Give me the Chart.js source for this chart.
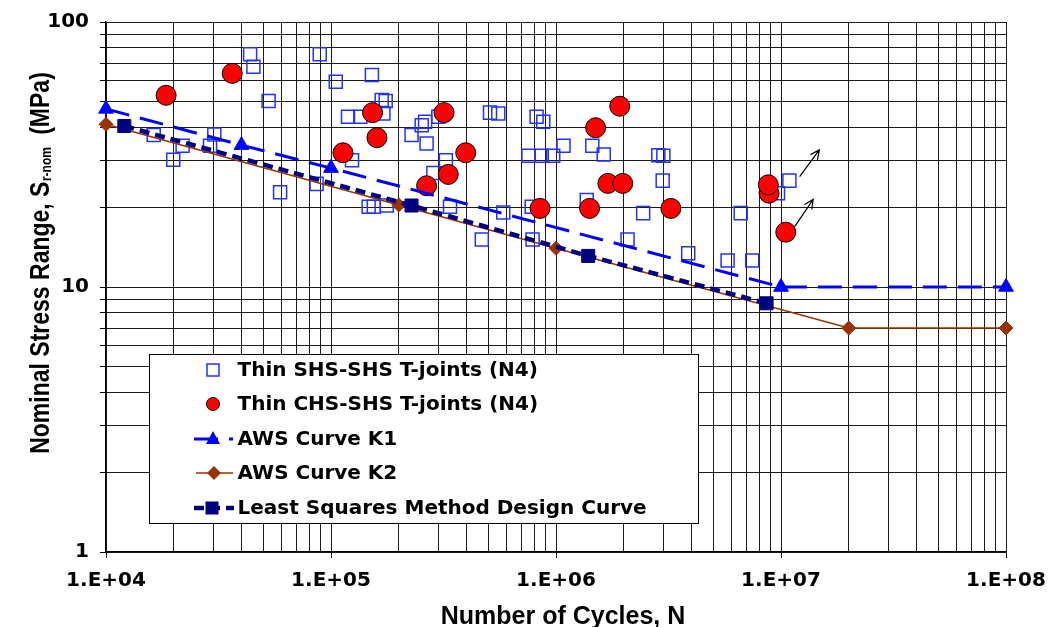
<!DOCTYPE html>
<html>
<head>
<meta charset="utf-8">
<script src="https://cdn.jsdelivr.net/npm/chart.js@4.4.1/dist/chart.umd.min.js"></script>
<style>
html,body{margin:0;padding:0;background:#fff;}
#wrap{width:1048px;height:627px;position:relative;}
</style>
</head>
<body>
<div id="wrap"><canvas id="c" width="1048" height="627"></canvas></div>
<script>
// ---------- data ----------
const shsCycles = [4.37e4,4.52e4,5.28e4,8.91e4,1.05e5,1.63e4,2.19e4,1.99e4,3.03e4,2.90e4,5.94e4,8.63e4,1.19e5,1.35e5,1.52e5,1.68e5,1.75e5,1.71e5,2.62e5,2.53e5,2.28e5,2.66e5,3.00e5,1.24e5,3.24e5,2.85e5,5.09e5,5.54e5,8.20e5,8.78e5,7.54e5,8.64e5,9.72e5,1.08e6,1.47e5,1.55e5,1.77e5,3.38e5,5.83e5,4.68e5,7.87e5,7.80e5,1.37e6,1.45e6,1.63e6,2.85e6,3.00e6,2.98e6,1.09e7,2.44e6,6.62e6,2.08e6,3.87e6,5.79e6,7.45e6,9.70e6];
const shsStress = [75.5,67.8,50.3,75.5,59.5,37.5,34.1,30.2,37.6,34.1,22.8,24.5,43.9,43.9,63.1,50.8,50.3,45.2,42.0,40.8,37.5,34.8,43.9,30.1,30.1,26.9,45.5,45.2,43.9,42.0,31.3,31.3,31.3,34.1,20.1,20.1,20.3,20.1,19.1,15.1,15.1,20.1,21.3,34.1,31.6,31.4,31.3,25.2,25.2,19.0,19.0,15.1,13.4,12.6,12.6,22.6];

const chsCycles = [1.85e4,3.64e4,1.13e5,1.53e5,1.60e5,3.18e5,3.97e5,3.32e5,2.66e5,8.49e5,1.50e6,1.41e6,1.92e6,1.70e6,1.98e6,3.24e6,8.85e6,8.78e6,1.05e7];
const chsStress = [52.9,64.0,32.1,45.5,36.6,45.5,32.1,26.6,24.1,19.8,39.9,19.8,48.1,24.6,24.6,19.8,22.6,24.3,16.1];

const k1Cycles = [1e4,4e4,1e5,1e7,1e8];
const k1Stress = [47,34.3,28.1,10,10];

const k2Cycles = [1e4,2e5,1e6,2e7,1e8];
const k2Stress = [41.1,20.4,14.0,7,7];

const lsmCycles = [1.206e4,2.28e5,1.39e6,8.63e6];
const lsmStress = [40.5,20.3,13.1,8.68];

const xMajorTicks = [1e4,1e5,1e6,1e7,1e8];
const xTickLabels = ['1.E+04','1.E+05','1.E+06','1.E+07','1.E+08'];
const yMajorTicks = [1,10,100];
const yTickLabels = ['1','10','100'];

const arrowStartCycles = [1.21e7,1.15e7];
const arrowStartStress = [26.1,16.9];
const arrowEndCycles = [1.48e7,1.39e7];
const arrowEndStress = [32.9,21.4];

const seriesLabels = ['Thin SHS-SHS T-joints (N4)','Thin CHS-SHS T-joints (N4)','AWS Curve K1','AWS Curve K2','Least Squares Method Design Curve'];
const xTitle = 'Number of Cycles, N';

// ---------- helpers ----------
const pts = (xs, ys) => xs.map((x, i) => ({x: x, y: ys[i]}));
function logTicks(majors) {
  const out = [];
  for (let i = 0; i < majors.length; i++) {
    out.push(majors[i]);
    if (i < majors.length - 1) for (let m = 2; m <= 9; m++) out.push(majors[i] * m);
  }
  return out;
}
const isMajor = (v, majors) => majors.some(m => Math.abs(v - m) / m < 1e-9);
const labelFor = (v, majors, labels) => { const i = majors.findIndex(m => Math.abs(v - m) / m < 1e-9); return i >= 0 ? labels[i] : ''; };

const tickFont = {family: '"DejaVu Sans", sans-serif', size: 20, weight: 'bold'};
const GRID = '#1c1c1c';

const decor = {
  id: 'decor',
  afterDraw(chart) {
    const ctx = chart.ctx, xs = chart.scales.x, ys = chart.scales.y;
    ctx.save();
    // annotation arrows
    ctx.strokeStyle = '#000'; ctx.lineWidth = 1.2;
    for (let i = 0; i < arrowStartCycles.length; i++) {
      const x0 = xs.getPixelForValue(arrowStartCycles[i]), y0 = ys.getPixelForValue(arrowStartStress[i]);
      const x1 = xs.getPixelForValue(arrowEndCycles[i]), y1 = ys.getPixelForValue(arrowEndStress[i]);
      const a = Math.atan2(y1 - y0, x1 - x0), L = 10, s = 0.45;
      ctx.beginPath();
      ctx.moveTo(x0, y0); ctx.lineTo(x1, y1);
      ctx.moveTo(x1 - L * Math.cos(a - s), y1 - L * Math.sin(a - s));
      ctx.lineTo(x1, y1);
      ctx.lineTo(x1 - L * Math.cos(a + s), y1 - L * Math.sin(a + s));
      ctx.stroke();
    }
    // legend
    const bx = 149, by = 354, bw = 549, bh = 169;
    ctx.fillStyle = '#fff'; ctx.fillRect(bx, by, bw, bh);
    ctx.strokeStyle = '#000'; ctx.lineWidth = 1; ctx.setLineDash([]);
    ctx.strokeRect(bx + 0.5, by + 0.5, bw, bh);
    const rows = [370, 404, 439, 473, 508];
    const ds = chart.data.datasets;
    // row 0: open square
    ctx.strokeStyle = ds[0].pointBorderColor; ctx.lineWidth = 1.5;
    ctx.strokeRect(213 - 6, rows[0] - 6, 12, 12);
    // row 1: circle
    ctx.beginPath(); ctx.arc(213, rows[1], 6.5, 0, Math.PI * 2);
    ctx.fillStyle = ds[1].pointBackgroundColor; ctx.fill();
    ctx.strokeStyle = '#000'; ctx.lineWidth = 1; ctx.stroke();
    // row 2: K1
    ctx.strokeStyle = ds[2].borderColor; ctx.lineWidth = ds[2].borderWidth; ctx.setLineDash(ds[2].borderDash);
    ctx.beginPath(); ctx.moveTo(194, rows[2]); ctx.lineTo(233, rows[2]); ctx.stroke();
    ctx.setLineDash([]);
    ctx.fillStyle = ds[2].pointBackgroundColor;
    ctx.beginPath(); ctx.moveTo(213, rows[2] - 8); ctx.lineTo(220, rows[2] + 5); ctx.lineTo(206, rows[2] + 5); ctx.closePath(); ctx.fill();
    // row 3: K2
    ctx.strokeStyle = ds[3].borderColor; ctx.lineWidth = ds[3].borderWidth;
    ctx.beginPath(); ctx.moveTo(196, rows[3]); ctx.lineTo(233, rows[3]); ctx.stroke();
    ctx.fillStyle = ds[3].pointBackgroundColor;
    ctx.beginPath(); ctx.moveTo(214, rows[3] - 7); ctx.lineTo(221, rows[3]); ctx.lineTo(214, rows[3] + 7); ctx.lineTo(207, rows[3]); ctx.closePath(); ctx.fill();
    // row 4: LSM
    ctx.strokeStyle = ds[4].borderColor; ctx.lineWidth = ds[4].borderWidth; ctx.setLineDash(ds[4].borderDash);
    ctx.beginPath(); ctx.moveTo(194, rows[4]); ctx.lineTo(234, rows[4]); ctx.stroke();
    ctx.setLineDash([]);
    ctx.fillStyle = ds[4].pointBackgroundColor; ctx.fillRect(212 - 6.5, rows[4] - 6.5, 13, 13);
    // legend text
    ctx.fillStyle = '#000'; ctx.font = 'bold 20px "DejaVu Sans", sans-serif';
    ctx.textBaseline = 'middle'; ctx.textAlign = 'left';
    for (let i = 0; i < 5; i++) ctx.fillText(ds[i].label, 237.5, rows[i] + 1);

    // x title
    ctx.font = 'bold 25px "Liberation Sans", Arial, sans-serif';
    ctx.textAlign = 'center'; ctx.textBaseline = 'alphabetic';
    ctx.fillText(xTitle, 563, 624);

    // y title with subscript
    ctx.save();
    ctx.translate(49, 263);
    ctx.rotate(-Math.PI / 2);
    ctx.scale(1, 1.2);
    const fMain = 'bold 23px "Liberation Sans", Arial, sans-serif';
    const fSub = 'bold 12px "Liberation Sans", Arial, sans-serif';
    const p1 = 'Nominal Stress Range, S', p2 = 'r-nom', p3 = '  (MPa)';
    ctx.font = fMain; const w1 = ctx.measureText(p1).width, w3 = ctx.measureText(p3).width;
    ctx.font = fSub; const w2 = ctx.measureText(p2).width;
    const x0 = -(w1 + w2 + w3) / 2;
    ctx.textAlign = 'left'; ctx.fillStyle = '#000';
    ctx.font = fMain; ctx.fillText(p1, x0, 0);
    ctx.font = fSub; ctx.fillText(p2, x0 + w1 + 0.5, 2);
    ctx.font = fMain; ctx.fillText(p3, x0 + w1 + w2, 0);
    ctx.restore();
    ctx.restore();
  }
};

const chart = new Chart(document.getElementById('c'), {
  type: 'scatter',
  data: {
    datasets: [
      {label: seriesLabels[0], data: pts(shsCycles, shsStress), pointStyle: 'rect', pointRadius: 9.2,
       pointBackgroundColor: 'rgba(0,0,0,0)', pointBorderColor: '#2233ff', pointBorderWidth: 1.5,
       showLine: false, order: 5, clip: false},
      {label: seriesLabels[1], data: pts(chsCycles, chsStress), pointStyle: 'circle', pointRadius: 10,
       pointBackgroundColor: '#ff0000', pointBorderColor: '#000', pointBorderWidth: 1,
       showLine: false, order: 4, clip: false},
      {label: seriesLabels[2], data: pts(k1Cycles, k1Stress), showLine: true, borderColor: '#0000ff', borderWidth: 3,
       borderDash: [24, 11], pointStyle: 'triangle', pointRadius: 8.5, pointBackgroundColor: '#0000ff',
       pointBorderColor: '#0000ff', pointBorderWidth: 1, order: 3, clip: false},
      {label: seriesLabels[3], data: pts(k2Cycles, k2Stress), showLine: true, borderColor: '#993300', borderWidth: 1.5,
       pointStyle: 'rectRot', pointRadius: 7, pointBackgroundColor: '#993300', pointBorderColor: '#993300',
       pointBorderWidth: 1, order: 2, clip: false},
      {label: seriesLabels[4], data: pts(lsmCycles, lsmStress), showLine: true, borderColor: '#000080', borderWidth: 4.5,
       borderDash: [10, 6], pointStyle: 'rect', pointRadius: 9.2, pointBackgroundColor: '#000080',
       pointBorderColor: '#000080', pointBorderWidth: 1, order: 1, clip: false}
    ]
  },
  options: {
    responsive: false, animation: false, events: [],
    layout: {padding: {left: 0, right: 42, top: 22, bottom: 0}},
    plugins: {legend: {display: false}, tooltip: {enabled: false}, title: {display: false}},
    scales: {
      x: {
        type: 'logarithmic', position: 'bottom', min: 1e4, max: 1e8,
        afterBuildTicks: s => { s.ticks = logTicks(xMajorTicks).map(v => ({value: v, major: isMajor(v, xMajorTicks)})); },
        afterFit: s => { s.height = 75; s.paddingLeft = 0; s.paddingRight = 0; },
        ticks: {autoSkip: false, maxRotation: 0, minRotation: 0, padding: 11, color: '#000', font: tickFont,
                callback: v => labelFor(v, xMajorTicks, xTickLabels)},
        grid: {color: GRID, lineWidth: 1, drawTicks: true, tickLength: 6,
               tickColor: c => (c.tick && isMajor(c.tick.value, xMajorTicks)) ? '#000' : 'rgba(0,0,0,0)'},
        border: {display: true, color: '#000', width: 1.3},
        title: {display: false}
      },
      y: {
        type: 'logarithmic', position: 'left', min: 1, max: 100,
        afterBuildTicks: s => { s.ticks = logTicks(yMajorTicks).map(v => ({value: v, major: isMajor(v, yMajorTicks)})); },
        afterFit: s => { s.width = 106; s.paddingTop = 0; s.paddingBottom = 0; },
        ticks: {autoSkip: false, padding: 11, color: '#000', font: tickFont,
                callback: v => labelFor(v, yMajorTicks, yTickLabels)},
        grid: {color: GRID, lineWidth: 1, drawTicks: true, tickLength: 6, tickColor: '#000'},
        border: {display: true, color: '#000', width: 1.3},
        title: {display: false}
      }
    }
  },
  plugins: [decor]
});
</script>
</body>
</html>
